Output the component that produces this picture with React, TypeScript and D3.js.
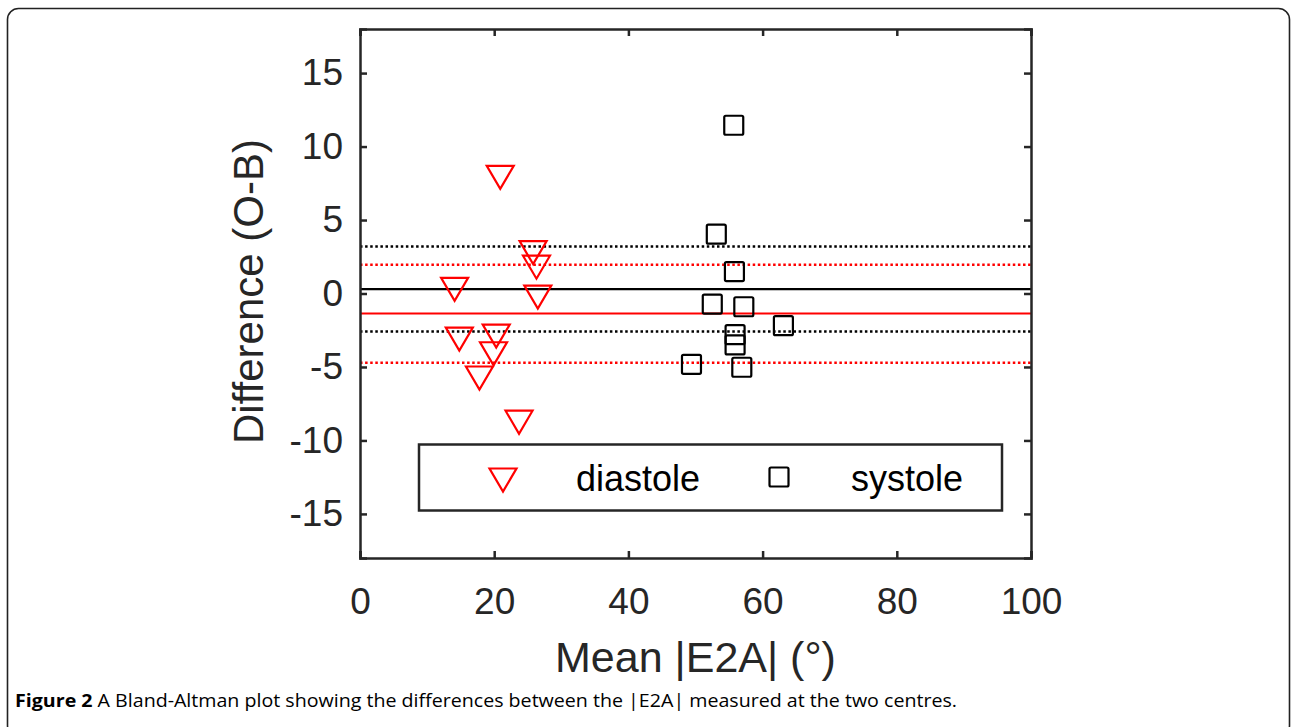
import React, { useEffect, useRef } from "react";
import * as d3 from "d3";

// mean |E2A| (deg) and difference (O-B)
const diastoleX = [20.9, 25.8, 26.3, 14.1, 26.5, 14.8, 20.3, 19.9, 17.8, 23.7];
const diastoleY = [7.9, 2.78, 1.79, 0.28, -0.24, -3.1, -2.9, -4.1, -5.75, -8.76];
const systoleX = [55.7, 53.1, 55.8, 52.5, 57.2, 63.1, 55.9, 55.9, 49.4, 56.9];
const systoleY = [11.45, 4.04, 1.49, -0.72, -0.9, -2.19, -2.8, -3.5, -4.82, -5.02];

// bias and limits of agreement
const systoleLines = [0.3, 3.19, -2.59];
const diastoleLines = [-1.36, 1.96, -4.71];

const xTicks = [0, 20, 40, 60, 80, 100];
const yTicks = [-15, -10, -5, 0, 5, 10, 15];

const W = 1292;
const H = 727;
const MARGIN = { top: 29, right: 261, bottom: 169, left: 360 };
const AXIS = "#262626";
const FONT = "'Liberation Sans', Arial, Helvetica, sans-serif";

const tri = "M-13.5,-11.5L13.5,-11.5L0,11.5Z";

const App = () => {
  const axesRef = useRef<SVGGElement>(null);
  const boundsWidth = W - MARGIN.left - MARGIN.right;
  const boundsHeight = H - MARGIN.top - MARGIN.bottom;

  const xScale = d3.scaleLinear().domain([0, 100]).range([0, boundsWidth]);
  const yScale = d3.scaleLinear().domain([-18, 18]).range([boundsHeight, 0]);

  useEffect(() => {
    const g = d3.select(axesRef.current);
    g.selectAll("*").remove();
    const fmt = (d: d3.NumberValue) => String(d);

    const bottom = g
      .append("g")
      .attr("transform", `translate(0,${boundsHeight})`)
      .call(d3.axisBottom(xScale).tickValues(xTicks).tickFormat(fmt).tickSize(-7).tickPadding(30));
    const left = g
      .append("g")
      .call(d3.axisLeft(yScale).tickValues(yTicks).tickFormat(fmt).tickSize(-7).tickPadding(17));
    g.append("g")
      .call(d3.axisTop(xScale).tickValues(xTicks).tickSize(-7).tickFormat(() => ""));
    g.append("g")
      .attr("transform", `translate(${boundsWidth},0)`)
      .call(d3.axisRight(yScale).tickValues(yTicks).tickSize(-7).tickFormat(() => ""));

    g.selectAll(".domain").attr("stroke", AXIS).attr("stroke-width", 2.5);
    g.selectAll(".tick line").attr("stroke", AXIS).attr("stroke-width", 2.5);
    [bottom, left].forEach((a) =>
      a
        .attr("font-family", FONT)
        .attr("font-size", 37)
        .selectAll("text")
        .attr("fill", AXIS)
    );
    bottom.selectAll("text").attr("dy", "0.71em");
  }, []);

  const hline = (v: number, color: string, dotted: boolean, i: number) => (
    <line
      key={color + i}
      x1={0}
      x2={boundsWidth}
      y1={yScale(v)}
      y2={yScale(v)}
      stroke={color}
      strokeWidth={dotted ? 2.5 : 2.2}
      strokeDasharray={dotted ? "2.5 2.6" : undefined}
    />
  );

  return (
    <svg
      width={W}
      height={H}
      style={{ position: "absolute", left: 0, top: 0, display: "block", background: "#fff" }}
    >
      <rect x={7.5} y={8.5} width={1282} height={728} rx={11} fill="#fff" stroke="#222" strokeWidth={1.6} />
      <g transform={`translate(${MARGIN.left},${MARGIN.top})`}>
        {systoleLines.map((v, i) => hline(v, "#000", i > 0, i))}
        {diastoleLines.map((v, i) => hline(v, "#ff0000", i > 0, i))}
        {diastoleX.map((d, i) => (
          <path
            key={"d" + i}
            d={tri}
            transform={`translate(${xScale(d)},${yScale(diastoleY[i])})`}
            fill="none"
            stroke="#ff0000"
            strokeWidth={2.2}
          />
        ))}
        {systoleX.map((d, i) => (
          <rect
            key={"s" + i}
            x={xScale(d) - 9.5}
            y={yScale(systoleY[i]) - 9.5}
            width={19}
            height={19}
            rx={1.5}
            fill="none"
            stroke="#000"
            strokeWidth={2.2}
          />
        ))}
      </g>
      <g ref={axesRef} transform={`translate(${MARGIN.left},${MARGIN.top})`} />

      {/* legend */}
      <g fontFamily={FONT} fontSize={36} fill="#000">
        <rect x={419} y={444.5} width={583} height={66} fill="#fff" stroke={AXIS} strokeWidth={2.5} />
        <path d={tri} transform="translate(503,480)" fill="none" stroke="#ff0000" strokeWidth={2.2} />
        <text x={576} y={491}>diastole</text>
        <rect x={769.5} y={467.5} width={19} height={19} rx={1.5} fill="none" stroke="#000" strokeWidth={2.2} />
        <text x={851} y={491}>systole</text>
      </g>

      <text
        x={MARGIN.left + boundsWidth / 2}
        y={672}
        textAnchor="middle"
        fontFamily={FONT}
        fontSize={43}
        fill={AXIS}
      >
        Mean |E2A| (°)
      </text>
      <text
        transform={`translate(263,${MARGIN.top + boundsHeight / 2 - 2}) rotate(-90)`}
        textAnchor="middle"
        fontFamily={FONT}
        fontSize={42}
        fill={AXIS}
      >
        Difference (O-B)
      </text>

      <text
        x={15}
        y={707}
        fontFamily="'Open Sans', sans-serif"
        fontSize={18.5}
        fill="#000"
        textLength={942}
        lengthAdjust="spacingAndGlyphs"
      >
        <tspan fontWeight="bold">Figure 2</tspan> A Bland-Altman plot showing the differences between the |E2A| measured at the two centres.
      </text>
    </svg>
  );
};

export default App;
